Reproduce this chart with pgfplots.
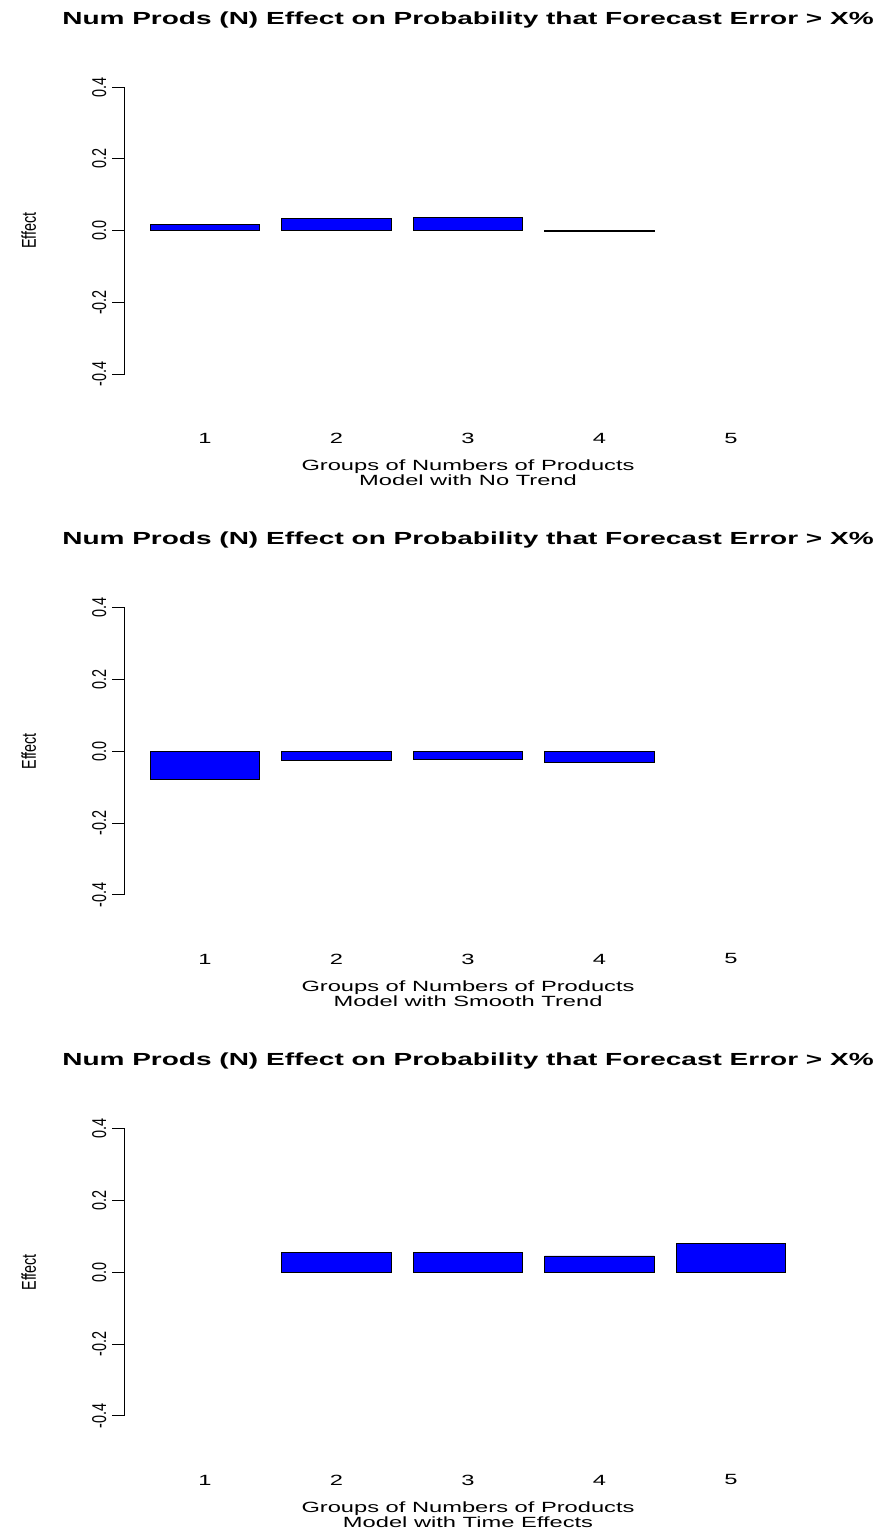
\documentclass[border=0pt]{standalone}
\usepackage{fontspec}
\setmainfont{Liberation Sans}[FakeStretch=1.6]
\newfontfamily\rotfont{Liberation Sans}[FakeStretch=0.72]
\usepackage{pgfplots}
\pgfplotsset{compat=1.18}
\definecolor{rblue}{RGB}{0,0,255}
\pgfplotsset{
  rpanel/.style={
    anchor=south west,
    scale only axis, width=686.4pt, height=310pt,
    xmin=-0.032, xmax=6.232, ymin=-0.432, ymax=0.432,
    enlargelimits=false,
    axis x line*=bottom, axis y line*=left,
    x axis line style={draw=none},
    y axis line style={-, line width=1pt, shorten >=11.48pt, shorten <=11.48pt},
    xtick={0.7,1.9,3.1,4.3,5.5}, xticklabels={1,2,3,4,5},
    xtick style={draw=none},
    xticklabel style={font=\fontsize{14.8}{18}\selectfont, anchor=center, yshift=-40pt},
    ytick={-0.4,-0.2,0,0.2,0.4}, yticklabels={-0.4,-0.2,0.0,0.2,0.4},
    ytick style={line width=1pt, black},
    tick align=outside, major tick length=12.6pt,
    yticklabel style={font=\fontsize{20}{24}\rotfont, rotate=90, anchor=center, yshift=13pt},
    ylabel={Effect},
    ylabel style={font=\fontsize{20}{24}\rotfont, at={(axis description cs:0,0.5)}, anchor=center, yshift=96pt},
    xlabel style={font=\fontsize{14.8}{15}\selectfont, align=center, at={(axis description cs:0.5,0)}, anchor=center, yshift=-87.5pt},
    title style={font=\fontsize{17.5}{20}\selectfont\bfseries, at={(axis description cs:0.5,1)}, anchor=center, yshift=50pt},
    title={Num Prods (N) Effect on Probability that Forecast Error > X\%},
    ybar, bar width=1, bar shift=0pt,
  },
  rbar/.style={fill=rblue, draw=black, line width=0.9pt},
}
\begin{document}
\begin{tikzpicture}
\path[use as bounding box] (0,0) rectangle (877pt,-1540pt);
\begin{axis}[rpanel, at={(124.8pt,-385.7pt)},
  xlabel={Groups of Numbers of Products\\Model with No Trend}]
\addplot[rbar] coordinates {(0.7,0.0167) (1.9,0.0334) (3.1,0.0372) (4.3,-0.0008)};
\end{axis}
\begin{axis}[rpanel, at={(124.8pt,-906.3pt)},
  xlabel={Groups of Numbers of Products\\Model with Smooth Trend}]
\addplot[rbar] coordinates {(0.7,-0.078) (1.9,-0.026) (3.1,-0.0234) (4.3,-0.0307)};
\end{axis}
\begin{axis}[rpanel, at={(124.8pt,-1427.3pt)},
  xlabel={Groups of Numbers of Products\\Model with Time Effects}]
\addplot[rbar] coordinates {(1.9,0.0557) (3.1,0.0548) (4.3,0.0455) (5.5,0.0817)};
\end{axis}
\end{tikzpicture}
\end{document}
